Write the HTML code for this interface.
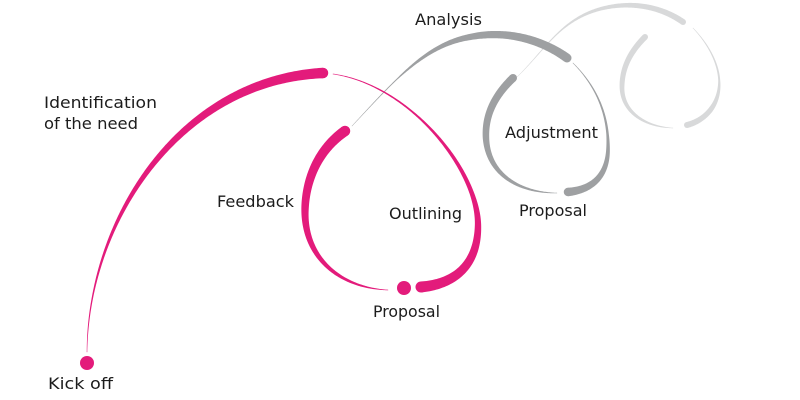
<!DOCTYPE html>
<html>
<head>
<meta charset="utf-8">
<style>
  html,body{margin:0;padding:0;background:#fff;}
  body{width:800px;height:400px;overflow:hidden;}
  svg{display:block;}
  text{font-family:"DejaVu Sans","Liberation Sans",sans-serif;font-size:16px;fill:#1c1c1c;}
</style>
</head>
<body>
<svg id="s" width="800" height="400" viewBox="0 0 800 400" xmlns="http://www.w3.org/2000/svg">
  <rect width="800" height="400" fill="#ffffff"/>
  <g id="curves"></g>
  <circle cx="87" cy="363" r="7" fill="#e31b7b"/>
  <circle cx="404" cy="288" r="7" fill="#e31b7b"/>

  <text x="415" y="25" textLength="67" lengthAdjust="spacingAndGlyphs">Analysis</text>
  <text x="44" y="108" textLength="113" lengthAdjust="spacingAndGlyphs">Identification</text>
  <text x="44" y="129" textLength="94" lengthAdjust="spacingAndGlyphs">of the need</text>
  <text x="217" y="207" textLength="77" lengthAdjust="spacingAndGlyphs">Feedback</text>
  <text x="389" y="219" textLength="73" lengthAdjust="spacingAndGlyphs">Outlining</text>
  <text x="505" y="138" textLength="93" lengthAdjust="spacingAndGlyphs">Adjustment</text>
  <text x="373" y="317" textLength="67" lengthAdjust="spacingAndGlyphs">Proposal</text>
  <text x="519" y="216" textLength="68" lengthAdjust="spacingAndGlyphs">Proposal</text>
  <text x="48" y="389" textLength="65" lengthAdjust="spacingAndGlyphs">Kick off</text>
</svg>
<script>
(function(){
  var NS="http://www.w3.org/2000/svg";
  var svg=document.getElementById("s");
  var g=document.getElementById("curves");
  function wAt(ws,f){
    for(var i=0;i<ws.length-1;i++){
      if(f<=ws[i+1][0]){
        var t=(f-ws[i][0])/(ws[i+1][0]-ws[i][0]);
        return ws[i][1]+(ws[i+1][1]-ws[i][1])*t;
      }
    }
    return ws[ws.length-1][1];
  }
  function stroke(d,ws,color){
    var p=document.createElementNS(NS,"path");
    p.setAttribute("d",d);p.setAttribute("fill","none");
    svg.appendChild(p);
    var len=p.getTotalLength();
    var N=200,s=[];
    for(var i=0;i<=N;i++){
      var pt=p.getPointAtLength(len*i/N);
      s.push([pt.x,pt.y,wAt(ws,i/N)]);
    }
    svg.removeChild(p);
    var L=[],R=[];
    for(var i=0;i<s.length;i++){
      var a=s[Math.max(i-1,0)],b=s[Math.min(i+1,s.length-1)];
      var dx=b[0]-a[0],dy=b[1]-a[1],l=Math.sqrt(dx*dx+dy*dy)||1;
      var nx=-dy/l,ny=dx/l,h=s[i][2]/2;
      L.push((s[i][0]+nx*h).toFixed(2)+","+(s[i][1]+ny*h).toFixed(2));
      R.push((s[i][0]-nx*h).toFixed(2)+","+(s[i][1]-ny*h).toFixed(2));
    }
    var poly=document.createElementNS(NS,"polygon");
    poly.setAttribute("points",L.concat(R.reverse()).join(" "));
    poly.setAttribute("fill",color);
    g.appendChild(poly);
    [s[0],s[s.length-1]].forEach(function(q){
      var c=document.createElementNS(NS,"circle");
      c.setAttribute("cx",q[0]);c.setAttribute("cy",q[1]);c.setAttribute("r",q[2]/2);
      c.setAttribute("fill",color);g.appendChild(c);
    });
  }
  var PINK="#e31b7b",GRAY="#9ea0a2",LIGHT="#d8d9da";

  // light gray spiral
  stroke("M517,77 C545,50 560,20 600,9 C630,1 660,6 683,22",[[0,0.4],[0.3,1.2],[0.5,3],[0.75,5],[1,6]],LIGHT);
  stroke("M693,28 C712,48 721,70 719,88 C717,108 703,121 687,125",[[0,0.5],[0.5,2],[0.75,5],[1,6]],LIGHT);
  stroke("M645,37 C630,52 622,68 622,87 C622,112 645,127 673,128",[[0,6],[0.4,5],[0.7,3],[1,0.4]],LIGHT);

  // gray spiral
  stroke("M352,126 C395,80 425,45 470,37 C510,29 545,42 567,58",[[0,0.4],[0.25,1],[0.45,4],[0.65,7],[1,9]],GRAY);
  stroke("M573,63 C600,90 609,120 608,150 C607,178 590,190 568,192",[[0,0.5],[0.5,2.5],[0.75,5.5],[1,8.5]],GRAY);
  stroke("M513,78 C492,98 485,118 486,138 C488,175 520,193 557,193",[[0,8],[0.4,6.5],[0.7,3.5],[1,0.4]],GRAY);

  // pink spiral
  stroke("M87,352 C88,220 180,80 323,73",[[0,0.5],[0.15,1.5],[0.3,3],[0.6,6.5],[1,10.5]],PINK);
  stroke("M333,74 C410,85 478,170 478,225 C478,265 455,284 421,287",[[0,0.6],[0.3,2],[0.6,4.5],[0.8,8],[1,11]],PINK);
  stroke("M345,131 C315,152 305,185 305,212 C305,258 340,288 388,290",[[0,10.5],[0.4,7.5],[0.7,4],[1,0.5]],PINK);
})();
</script>
</body>
</html>
